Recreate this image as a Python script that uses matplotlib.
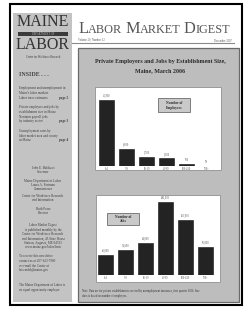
import matplotlib
matplotlib.use('Agg')
import matplotlib.pyplot as plt
from matplotlib.patches import Rectangle

# ---- data ----
size_classes = ['1-4', '5-9', '10-19', '20-99', '100-499', '500+']
employers = [25900, 6800, 3700, 3000, 760, 90]
jobs = [40000, 51000, 64000, 146000, 110000, 56000]
employer_labels = ['25,900', '6,800', '3,700', '3,000', '760', '90']
job_labels = ['40,000', '51,000', '64,000', '146,000', '110,000', '56,000']

W, H = 244, 310
fig = plt.figure(figsize=(W / 100, H / 100), dpi=100)
fig.patch.set_facecolor('white')
bg = fig.add_axes([0, 0, 1, 1], zorder=0)
bg.set_xlim(0, W)
bg.set_ylim(H, 0)
bg.axis('off')

SERIF = ['Liberation Serif', 'DejaVu Serif']
SIDE = '#c3c3c3'
PANEL = '#bdbdbd'
INK = '#2a2a2a'


def rect(x0, y0, x1, y1, fc, ec='none', lw=0, z=1):
    bg.add_patch(Rectangle((x0, y0), x1 - x0, y1 - y0, facecolor=fc,
                           edgecolor=ec, linewidth=lw, zorder=z))


def txt(x, y, s, fs=2.3, ha='left', va='center', color='#3a3a3a', weight='normal', fam=None, z=5):
    return bg.text(x, y, s, fontsize=fs, ha=ha, va=va, color=color,
                   fontweight=weight, family=fam or SERIF, zorder=z)


# page frame
rect(10, 3.5, 241.5, 305, 'white', ec='black', lw=1.5, z=0.5)
# sidebar
rect(13, 13, 72, 302, SIDE, z=1)
# logo
txt(43, 22.5, 'MAINE', fs=11.5, ha='center', color='#333333', z=3)
rect(18, 31.5, 68, 36, '#3a3a3a', z=2)
txt(43, 33.8, 'DEPARTMENT OF', fs=2.0, ha='center', color='#bbbbbb', z=3)
txt(43, 45, 'LABOR', fs=11.5, ha='center', color='#333333', z=3)
txt(43, 56.5, 'Center for Workforce Research', fs=1.9, ha='center', color='#333333')

# header with small caps
ren = fig.canvas.get_renderer()
x = 78
segments = [('L', 11.7), ('ABOR', 8.8), (None, 3.2), ('M', 11.7), ('ARKET', 8.8),
            (None, 3.2), ('D', 11.7), ('IGEST', 8.8)]
for s, f in segments:
    if s is None:
        x += f
        continue
    t = bg.text(x, 33, s, fontsize=f, ha='left', va='baseline', color='#555555',
                family=SERIF, zorder=3)
    x += t.get_window_extent(ren).width
bg.plot([72, 234], [43, 43], color='#8a8a8a', lw=0.8, zorder=2)
txt(78, 40, 'Volume 20, Number 12', fs=2.0, color='#555555')
txt(232, 40.5, 'December 2007', fs=2.0, ha='right', color='#555555')

# sidebar text
txt(19, 75, 'INSIDE . . .', fs=4.3, weight='bold', color='#444444')
side_left = [
    (88, 'Employment and unemployment in', None),
    (93, "Maine's labor markets", None),
    (98, 'Labor force estimates', 'page 2'),
    (107, 'Private employers and jobs by', None),
    (112, 'establishment size in Maine', None),
    (117, 'Nonfarm payroll jobs', None),
    (121, 'by industry sector', 'page 3'),
    (131, 'Unemployment rates by', None),
    (136, 'labor market area and county', None),
    (140, 'in Maine', 'page 4'),
]
for y, s, p in side_left:
    txt(19, y, s)
    if p:
        txt(68, y, p, ha='right', weight='bold')
side_center = [
    (168, 'John E. Baldacci'), (172, 'Governor'),
    (181, 'Maine Department of Labor'), (185, 'Laura A. Fortman'), (189, 'Commissioner'),
    (196, 'Center for Workforce Research'), (200, 'and Information'),
    (209, 'Ruth Pease'), (213, 'Director'),
    (225, 'Labor Market Digest'), (230, 'is published monthly by the'),
    (234, 'Center for Workforce Research'), (239, 'and Information, 45 State House'),
    (243, 'Station, Augusta, ME 04333'), (247, 'www.maine.gov/labor/lmis'),
]
for y, s in side_center:
    txt(43, y, s, ha='center')
side_bottom = [
    (256, 'To receive this newsletter'), (261, 'contact us at 207-623-7900'),
    (266, 'or e-mail the Center at'), (270, 'lmis.mdol@maine.gov'),
    (285, 'The Maine Department of Labor is'), (290, 'an equal opportunity employer'),
]
for y, s in side_bottom:
    txt(19, y, s)

# panel
rect(77.5, 48, 239, 302, PANEL, ec='#6a6a6a', lw=0.9, z=1)
txt(160, 61.5, 'Private Employers and Jobs by Establishment Size,', fs=4.3, ha='center',
    weight='bold', color=INK)
txt(160, 70.5, 'Maine, March 2006', fs=4.3, ha='center', weight='bold', color=INK)
# chart boxes
rect(95, 87, 221, 170, 'white', ec='#9a9a9a', lw=0.7, z=2)
rect(96, 195, 220, 282, 'white', ec='#9a9a9a', lw=0.7, z=2)
# footnote
txt(82, 291, 'Note: Data are for private establishments covered by unemployment insurance, '
    'first quarter 2006. Size', fs=2.0, color='#333333')
txt(82, 296, 'class is based on number of employees.', fs=2.0, color='#333333')

# legend boxes
rect(158, 98, 190, 112, '#c9c9c9', ec='#555555', lw=0.5, z=3)
txt(174, 102.5, 'Number of', fs=2.6, ha='center', weight='bold', color=INK)
txt(174, 107.5, 'Employers', fs=2.6, ha='center', weight='bold', color=INK)
rect(107, 213, 139, 225, '#c9c9c9', ec='#555555', lw=0.5, z=3)
txt(123, 216.5, 'Number of', fs=2.6, ha='center', weight='bold', color=INK)
txt(123, 221.5, 'Jobs', fs=2.6, ha='center', weight='bold', color=INK)


def bar_axes(left, right, top, base, values, labels, ytop):
    ax = fig.add_axes([left / W, 1 - base / H, (right - left) / W, (base - top) / H], zorder=2)
    ax.axis('off')
    pos = list(range(len(values)))
    ax.bar(pos, values, width=0.74, color='#232323', edgecolor='#111111', linewidth=0.4)
    ax.set_xlim(-0.5, len(values) - 0.5)
    ax.set_ylim(0, ytop)
    for i, (v, lab) in enumerate(zip(values, labels)):
        ax.annotate(lab, (i, v), xytext=(0, 1.2), textcoords='offset points', ha='center',
                    va='bottom', fontsize=2.0, color='#555555', family=SERIF)
        ax.annotate(size_classes[i], (i, 0), xytext=(0, -1.0), textcoords='offset points',
                    ha='center', va='top', fontsize=2.0, color='#555555', family=SERIF,
                    annotation_clip=False)
    return ax


bar_axes(96.5, 216.5, 88, 166, employers, employer_labels,
         employers[0] * (166 - 88) / (166 - 100))
bar_axes(95.5, 215.5, 195, 275, jobs, job_labels,
         jobs[3] * (275 - 195) / (275 - 202))

fig.savefig('out.png', dpi=100, facecolor='white')
